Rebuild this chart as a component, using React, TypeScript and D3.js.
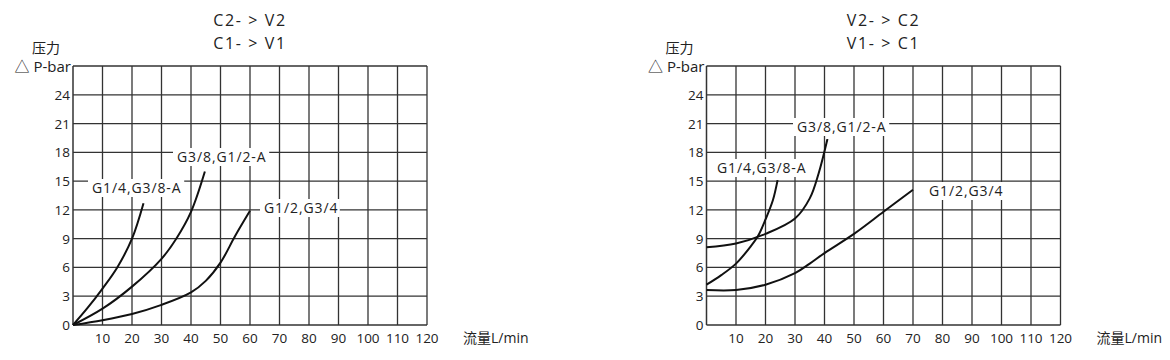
import React from "react";
import * as d3 from "d3";

const xTicks = [10, 20, 30, 40, 50, 60, 70, 80, 90, 100, 110, 120];
const yTicks = [0, 3, 6, 9, 12, 15, 18, 21, 24];
const xGrid = [10, 20, 30, 40, 50, 60, 70, 80, 90, 100, 110, 120];
const yGrid = [3, 6, 9, 12, 15, 18, 21, 24, 27];

const leftTitle = ["C2- > V2", "C1- > V1"];
const rightTitle = ["V2- > C2", "V1- > C1"];

// Left chart series [flow, pressure]
const leftA: [number, number][] = [[0, 0], [5, 1.8], [10, 3.8], [15, 6.0], [20, 9.0], [23.9, 12.7]];
const leftB: [number, number][] = [[0, 0], [10, 1.7], [20, 4.0], [30, 6.9], [35, 9.0], [40, 11.8], [44.7, 16.0]];
const leftC: [number, number][] = [[0, 0], [10, 0.5], [20, 1.15], [30, 2.1], [40, 3.4], [45, 4.6], [50, 6.5], [55, 9.3], [60, 11.9]];

// Right chart series
const rightA: [number, number][] = [[0, 4.2], [5, 5.2], [10, 6.4], [15, 8.2], [17.5, 9.3], [20, 11.0], [22.5, 13.0], [24.1, 15.1]];
const rightB: [number, number][] = [[0, 8.1], [10, 8.5], [20, 9.5], [30, 11.1], [35, 13.2], [38, 15.8], [41, 19.4]];
const rightC: [number, number][] = [[0, 3.65], [10, 3.65], [20, 4.2], [30, 5.4], [35, 6.4], [40, 7.5], [50, 9.5], [60, 11.8], [70, 14.1]];

const labelA = "G1/4,G3/8-A";
const labelB = "G3/8,G1/2-A";
const labelC = "G1/2,G3/4";

const FONT = "'Open Sans', 'Noto Sans CJK SC', sans-serif";

type Lbl = { text: string; x: number; y: number };

function Panel({ left, title, series, labels }: { left: number; title: string[]; series: [number, number][][]; labels: Lbl[] }) {
  const x = d3.scaleLinear().domain([0, 120]).range([left, left + 354]);
  const y = d3.scaleLinear().domain([0, 27]).range([325, 66]);
  const line = d3.line<[number, number]>().x(d => x(d[0])).y(d => y(d[1])).curve(d3.curveCatmullRom.alpha(0.5));
  const cx = (x(0) + x(120)) / 2;
  return (
    <g>
      <text x={cx} y={26} textAnchor="middle" fontSize={16} letterSpacing={1.6} fontFamily={FONT} fill="#222">{title[0]}</text>
      <text x={cx} y={48.5} textAnchor="middle" fontSize={16} letterSpacing={1.6} fontFamily={FONT} fill="#222">{title[1]}</text>
      <text x={x(0) - 41} y={53} fontSize={14} fontFamily={FONT} fill="#222">压力</text>
      <text x={x(0) - 2} y={72} textAnchor="end" fontSize={15} fontFamily={FONT} fill="#222">△ P-bar</text>
      {xGrid.map(v => (
        <line key={"gx" + v} x1={x(v)} x2={x(v)} y1={y(0)} y2={y(27)} stroke="#333" strokeWidth={1.3} />
      ))}
      {yGrid.map(v => (
        <line key={"gy" + v} x1={x(0)} x2={x(120)} y1={y(v)} y2={y(v)} stroke="#333" strokeWidth={1.3} />
      ))}
      <line x1={x(0)} x2={x(0)} y1={y(0)} y2={y(27)} stroke="#333" strokeWidth={1.5} />
      <line x1={x(0)} x2={x(120)} y1={y(0)} y2={y(0)} stroke="#333" strokeWidth={1.5} />
      {yTicks.map(v => (
        <text key={"ty" + v} x={x(0) - 3} y={y(v) + 5} textAnchor="end" fontSize={13.5} fontFamily={FONT} fill="#222">{v}</text>
      ))}
      {xTicks.map(v => (
        <text key={"tx" + v} x={x(v)} y={343} textAnchor="middle" fontSize={13.5} fontFamily={FONT} fill="#222">{v}</text>
      ))}
      <text x={x(120) + 36} y={343} fontSize={14} fontFamily={FONT} fill="#222">流量L/min</text>
      {labels.map((l, i) => (
        <g key={"l" + i}>
          <rect x={l.x - 4} y={l.y - 9} width={l.text.length * 8.2 + 6} height={18} fill="#fff" />
          <text x={l.x} y={l.y + 5} fontSize={14} letterSpacing={0.9} fontFamily={FONT} fill="#222">{l.text}</text>
        </g>
      ))}
      {series.map((s, i) => (
        <path key={"s" + i} d={line(s) || ""} fill="none" stroke="#111" strokeWidth={2} />
      ))}
    </g>
  );
}

export default function App() {
  return (
    <svg width={1170} height={360} style={{ position: "absolute", left: 0, top: 0, background: "#fff" }}>
      <rect width={1170} height={360} fill="#fff" />
      <Panel
        left={73}
        title={leftTitle}
        series={[leftA, leftB, leftC]}
        labels={[
          { text: labelA, x: 92, y: 188 },
          { text: labelB, x: 177, y: 157 },
          { text: labelC, x: 264, y: 208 },
        ]}
      />
      <Panel
        left={706.5}
        title={rightTitle}
        series={[rightA, rightB, rightC]}
        labels={[
          { text: labelA, x: 717, y: 168 },
          { text: labelB, x: 797, y: 127 },
          { text: labelC, x: 929, y: 191 },
        ]}
      />
    </svg>
  );
}
